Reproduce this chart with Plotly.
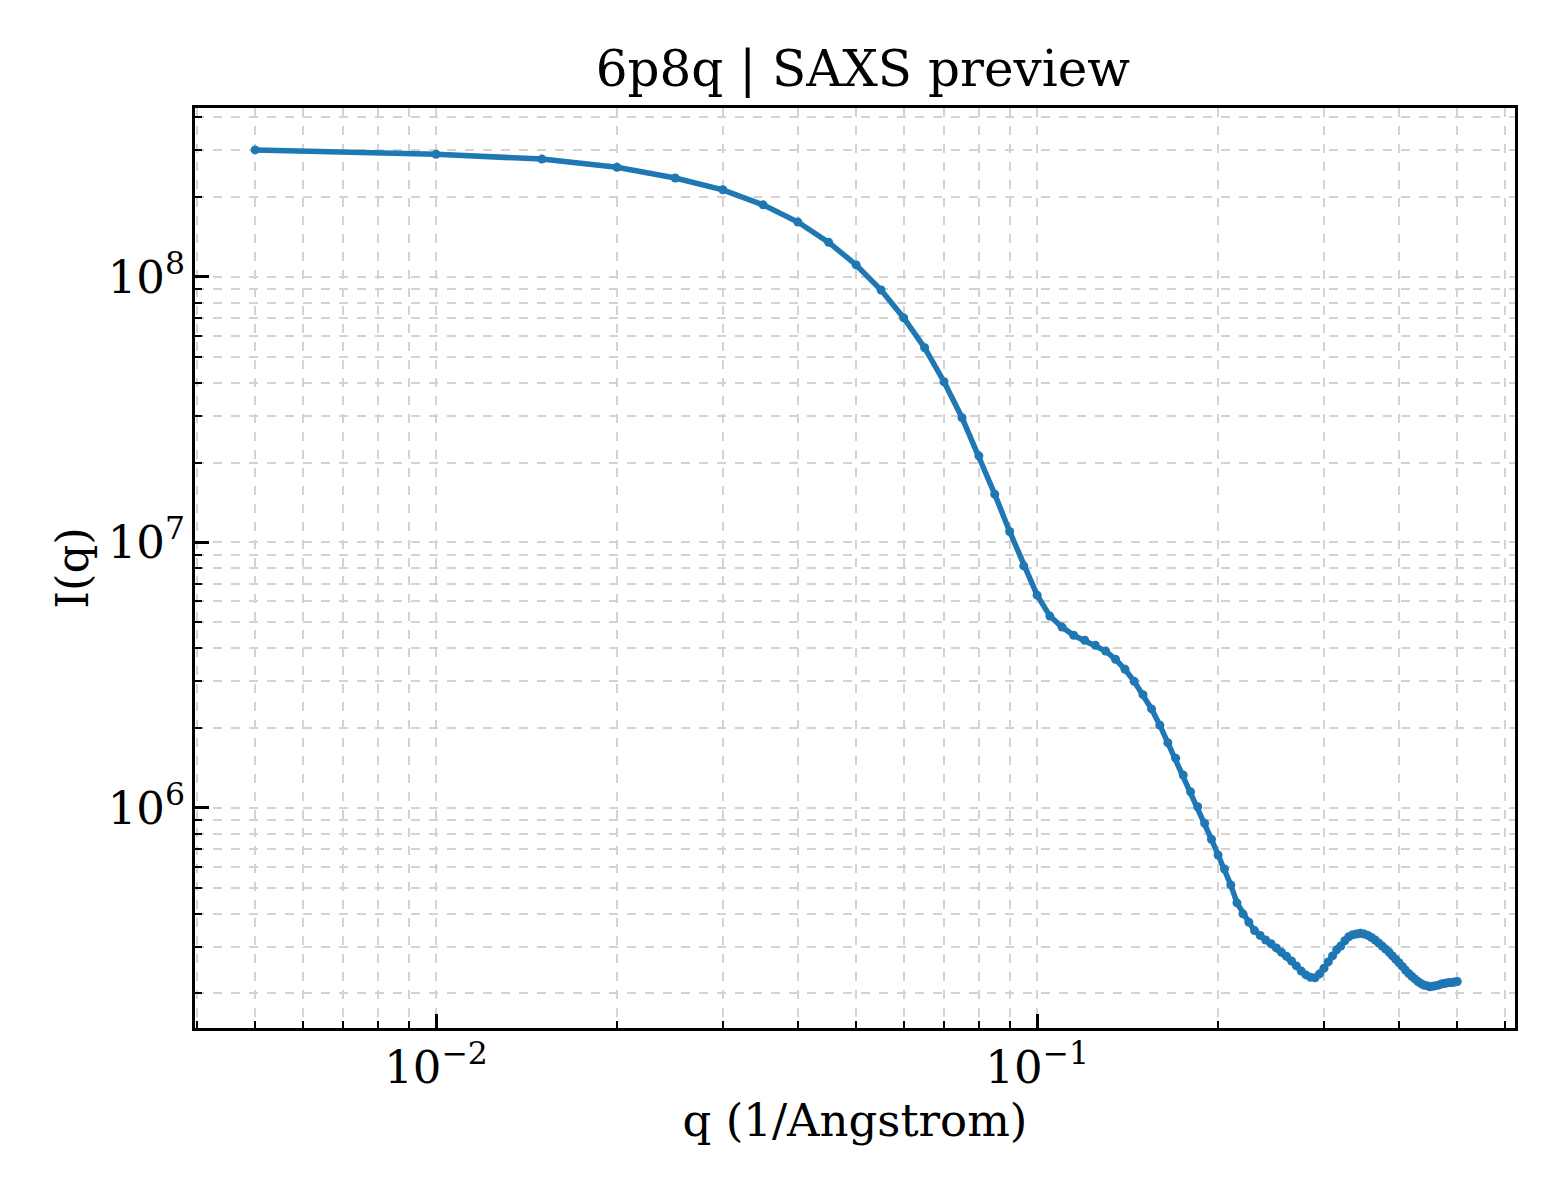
import plotly.graph_objects as go

# scattering vector q (1/Angstrom)
q = [0.005, 0.010, 0.015, 0.020, 0.025, 0.030, 0.035, 0.040, 0.045, 0.050,
     0.055, 0.060, 0.065, 0.070, 0.075, 0.080, 0.085, 0.090, 0.095, 0.100,
     0.105, 0.110, 0.115, 0.120, 0.125, 0.130, 0.135, 0.140, 0.145, 0.150,
     0.155, 0.160, 0.165, 0.170, 0.175, 0.180, 0.185, 0.190, 0.195, 0.200,
     0.205, 0.210, 0.215, 0.220, 0.225, 0.230, 0.235, 0.240, 0.245, 0.250,
     0.255, 0.260, 0.265, 0.270, 0.275, 0.280, 0.285, 0.290, 0.295, 0.300,
     0.305, 0.310, 0.315, 0.320, 0.325, 0.330, 0.335, 0.340, 0.345, 0.350,
     0.355, 0.360, 0.365, 0.370, 0.375, 0.380, 0.385, 0.390, 0.395, 0.400,
     0.405, 0.410, 0.415, 0.420, 0.425, 0.430, 0.435, 0.440, 0.445, 0.450,
     0.455, 0.460, 0.465, 0.470, 0.475, 0.480, 0.485, 0.490, 0.495, 0.500]

# intensity I(q)
intensity = [3.01e8, 2.90e8, 2.78e8, 2.59e8, 2.36e8, 2.13e8, 1.87e8, 1.61e8, 1.35e8, 1.11e8,
             8.93e7, 7.01e7, 5.41e7, 4.03e7, 2.95e7, 2.12e7, 1.52e7, 1.10e7, 8.16e6, 6.33e6,
             5.28e6, 4.80e6, 4.47e6, 4.28e6, 4.10e6, 3.90e6, 3.63e6, 3.33e6, 3.00e6, 2.67e6,
             2.36e6, 2.05e6, 1.76e6, 1.54e6, 1.33e6, 1.15e6, 1.01e6, 8.75e5, 7.62e5, 6.65e5,
             5.89e5, 5.13e5, 4.39e5, 3.99e5, 3.71e5, 3.45e5, 3.31e5, 3.18e5, 3.08e5, 2.97e5,
             2.86e5, 2.76e5, 2.65e5, 2.54e5, 2.43e5, 2.35e5, 2.30e5, 2.29e5, 2.37e5, 2.49e5,
             2.63e5, 2.77e5, 2.92e5, 3.02e5, 3.16e5, 3.27e5, 3.33e5, 3.35e5, 3.37e5, 3.35e5,
             3.31e5, 3.25e5, 3.18e5, 3.10e5, 3.02e5, 2.94e5, 2.86e5, 2.77e5, 2.69e5, 2.61e5,
             2.53e5, 2.45e5, 2.38e5, 2.32e5, 2.27e5, 2.22e5, 2.18e5, 2.15e5, 2.14e5, 2.12e5,
             2.13e5, 2.14e5, 2.15e5, 2.17e5, 2.18e5, 2.19e5, 2.20e5, 2.20e5, 2.21e5, 2.22e5]

title = "6p8q | SAXS preview"
font_family = "DejaVu Serif"
grid_color = "#d3d3d3"

fig = go.Figure()

fig.add_trace(go.Scatter(
    x=q,
    y=intensity,
    mode='lines+markers',
    line=dict(color='#1f77b4', width=5.5),
    marker=dict(color='#1f77b4', size=9),
    showlegend=False,
))

axis_common = dict(
    type='log',
    dtick=1,
    exponentformat='power',
    showexponent='all',
    showline=True,
    linecolor='black',
    linewidth=2.5,
    mirror=True,
    ticks='inside',
    ticklen=14,
    tickwidth=2.5,
    tickcolor='black',
    ticklabelstandoff=0,
    tickfont=dict(family=font_family, size=36, color='black'),
    showgrid=True,
    gridcolor=grid_color,
    griddash='dash',
    gridwidth=1.5,
    zeroline=False,
    minor=dict(ticks='inside', ticklen=7, tickwidth=1.8, tickcolor='black',
               showgrid=True, gridcolor=grid_color, griddash='dash', gridwidth=1.5),
)

fig.update_xaxes(
    **axis_common,
    range=[-2.401, -0.205],
    title=dict(text='q (1/Angstrom)', font=dict(family=font_family, size=45, color='black'),
               standoff=12),
)
fig.update_yaxes(
    **axis_common,
    range=[5.171, 8.6365],
    title=dict(text='I(q)', font=dict(family=font_family, size=45, color='black'),
               standoff=5),
)

fig.update_layout(
    width=1560,
    height=1200,
    margin=dict(l=187, r=53, t=100, b=180),
    paper_bgcolor='white',
    plot_bgcolor='white',
    title=dict(text=title, x=0.548, xanchor='center', y=1 - 60 / 1200, yanchor='middle',
               font=dict(family=font_family, size=50, color='black')),
)

fig.write_html("out.html")
